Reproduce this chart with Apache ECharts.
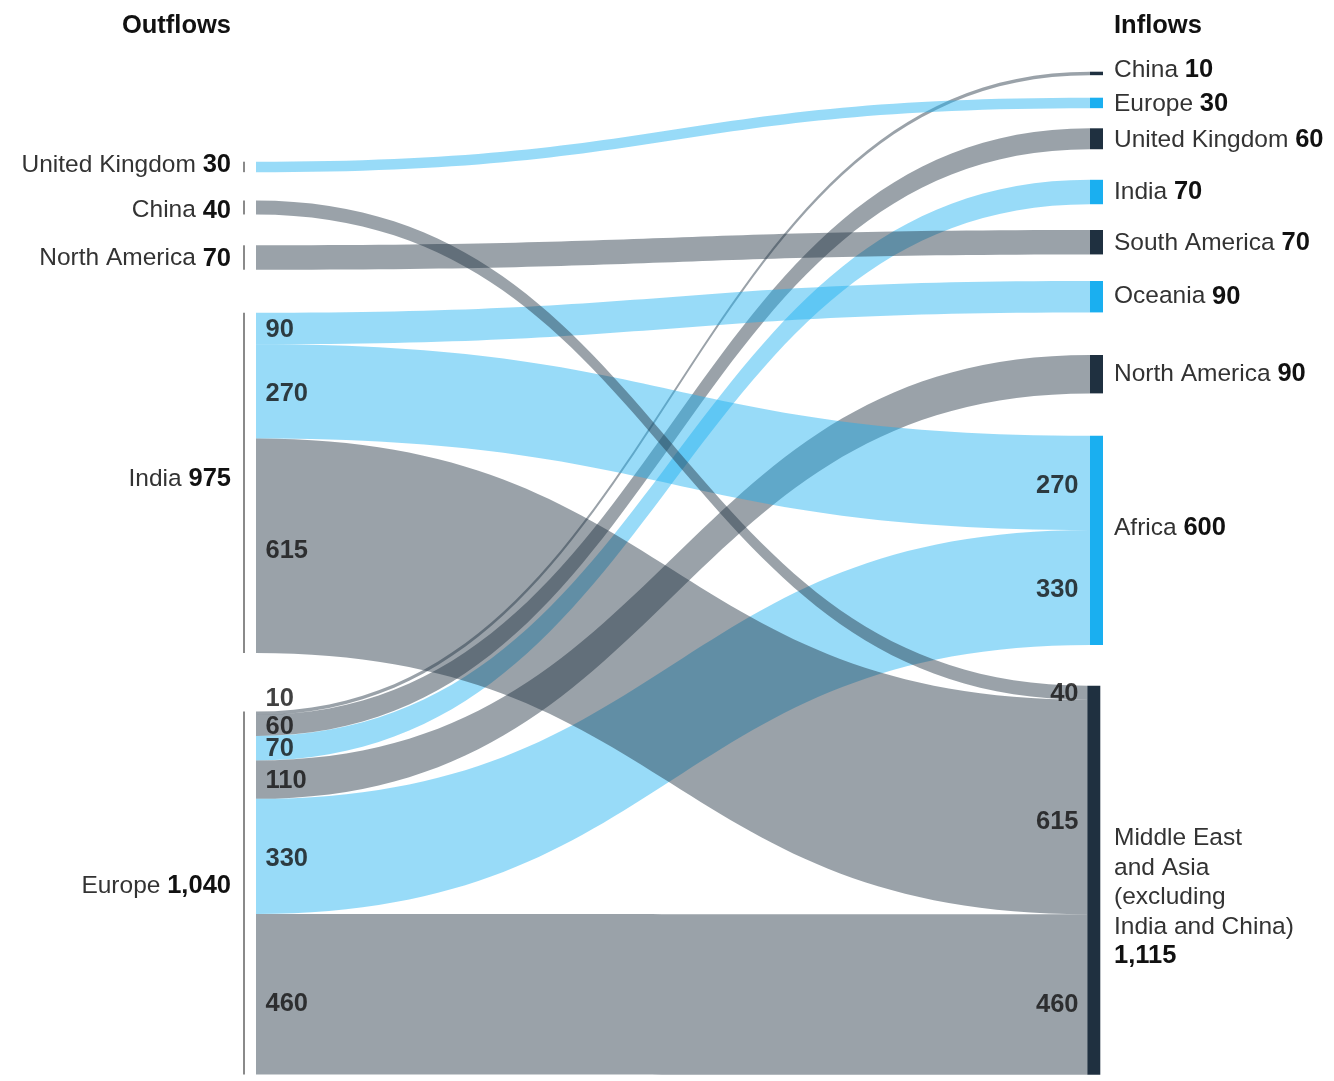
<!DOCTYPE html>
<html>
<head>
<meta charset="utf-8">
<script src="https://cdn.jsdelivr.net/npm/echarts@6/dist/echarts.min.js"></script>
<style>
html, body { margin: 0; padding: 0; background: #fff; }
#chart { width: 1334px; height: 1081px; }
</style>
</head>
<body>
<div id="chart"></div>
<script>
// ---- Data ----
// Outflow regions (left column) and their totals
const outNames = ['United Kingdom', 'China', 'North America', 'India', 'Europe'];
const outTotals = [30, 40, 70, 975, 1040];
// Inflow regions (right column) and their totals
const inNames = ['China', 'Europe', 'United Kingdom', 'India', 'South America', 'Oceania',
  'North America', 'Africa', 'Middle East\nand Asia\n(excluding\nIndia and China)'];
const inTotals = [10, 30, 60, 70, 70, 90, 90, 600, 1115];
// Flows: index into outNames, index into inNames, value
const flowFrom = [4, 0, 4, 4, 2, 3, 4, 3, 4, 1, 3, 4];
const flowTo = [0, 1, 2, 3, 4, 5, 6, 7, 7, 8, 8, 8];
const flowValues = [10, 30, 60, 70, 70, 90, 110, 270, 330, 40, 615, 460];

// ---- Layout & style ----
const FONT = '"Liberation Sans", Arial, sans-serif';
const BLUE = '#1aaff0';
const NAVY = '#1f3040';
const LINE = '#8a8a8a';
const inColors = [NAVY, BLUE, NAVY, BLUE, NAVY, BLUE, NAVY, BLUE, NAVY];
const BOX = { left: 243, top: 71.7, width: 860, height: 1003.3 };
const NODE_W = 13;
const NODE_GAP = 31.4;
// node top edges (page px)
const outTops = [161.7, 200.5, 245.3, 312.8, 711.6];
const inTops = [71.7, 97.7, 128.3, 179.8, 230, 281, 355, 435.7, 685.7];
const inShiftX = [0, 0, 0, 0, 0, 0, 0, 0, -2.7];
const outLabelDy = [-2, 3, 1, -4, -7];
const inLabelDy = [-3, 1, 1, 0, 1, 0, 0, -12, 17];
const edgeStartDy = [-14, 1, 1, 1, 0, 1, 1, 3, 3, 0, 5, 10];
const edgeEndDy = [0, 0, 0, 0, 0, 0, 0, 3, 2, 1, 15, 10];

const fmt = v => v.toLocaleString('en-US');
const sum = a => a.reduce((s, x) => s + x, 0);

// thin rule on the left edge of each outflow node
const leftRule = {
  type: 'linear', x: 0, y: 0, x2: 1, y2: 0,
  colorStops: [
    { offset: 0, color: LINE }, { offset: 0.12, color: LINE },
    { offset: 0.12, color: 'rgba(255,255,255,0)' }, { offset: 1, color: 'rgba(255,255,255,0)' }
  ]
};

const richText = {
  n: { fontFamily: FONT, fontSize: 24.5, color: '#333', lineHeight: 29.5 },
  v: { fontFamily: FONT, fontSize: 25.5, fontWeight: 'bold', color: '#111', lineHeight: 29.5 }
};

function labelText(name, value) {
  const lines = name.split('\n');
  if (lines.length > 1) {
    return lines.map(l => '{n|' + l + '}').join('\n') + '\n{v|' + fmt(value) + '}';
  }
  return '{n|' + name + ' }{v|' + fmt(value) + '}';
}

// node sizes as the sankey layout computes them
const outSize = outNames.map((_, i) => Math.max(outTotals[i], sum(flowValues.filter((_, k) => flowFrom[k] === i))));
const inSize = inNames.map((_, j) => Math.max(inTotals[j], sum(flowValues.filter((_, k) => flowTo[k] === j))));
const ky = Math.min(
  (BOX.height - (outNames.length - 1) * NODE_GAP) / sum(outSize),
  (BOX.height - (inNames.length - 1) * NODE_GAP) / sum(inSize)
);
const rightX = BOX.width - NODE_W;

const nodes = [];
outNames.forEach((name, i) => {
  nodes.push({
    name: 'out-' + i,
    value: outTotals[i],
    localX: 0,
    localY: (outTops[i] - BOX.top) / BOX.height,
    itemStyle: { color: leftRule },
    label: {
      position: 'left', distance: 12, offset: [0, outLabelDy[i]],
      align: 'right', formatter: labelText(name, outTotals[i]), rich: richText
    }
  });
});
inNames.forEach((name, j) => {
  nodes.push({
    name: 'in-' + j,
    value: inTotals[j],
    localX: (rightX + inShiftX[j]) / BOX.width,
    localY: (inTops[j] - BOX.top) / BOX.height,
    itemStyle: { color: inColors[j] },
    label: {
      position: 'right', distance: 11 - inShiftX[j], offset: [0, inLabelDy[j]],
      align: 'left', formatter: labelText(name, inTotals[j]), rich: richText
    }
  });
});

const links = flowValues.map((v, k) => ({
  source: 'out-' + flowFrom[k],
  target: 'in-' + flowTo[k],
  value: v
}));

// value labels at both ends of the flows, stacked in the same order as the sankey edges
const edgeLabels = [];
outNames.forEach((_, i) => {
  const ks = flowValues.map((_, k) => k).filter(k => flowFrom[k] === i).sort((a, b) => flowTo[a] - flowTo[b]);
  if (ks.length < 2) return;
  let acc = 0;
  ks.forEach(k => {
    const y = outTops[i] - BOX.top + (acc + flowValues[k] / 2) * ky + edgeStartDy[k];
    acc += flowValues[k];
    edgeLabels.push({
      value: [NODE_W, y],
      label: { position: 'right', distance: 9, formatter: String(flowValues[k]) }
    });
  });
});
inNames.forEach((_, j) => {
  const ks = flowValues.map((_, k) => k).filter(k => flowTo[k] === j).sort((a, b) => flowFrom[a] - flowFrom[b]);
  if (ks.length < 2) return;
  let acc = 0;
  ks.forEach(k => {
    const y = inTops[j] - BOX.top + (acc + flowValues[k] / 2) * ky + edgeEndDy[k];
    acc += flowValues[k];
    edgeLabels.push({
      value: [rightX + inShiftX[j], y],
      label: { position: 'left', distance: 11 + inShiftX[j], formatter: String(flowValues[k]) }
    });
  });
});

const chart = echarts.init(document.getElementById('chart'), null, { renderer: 'canvas' });
chart.setOption({
  animation: false,
  backgroundColor: '#fff',
  title: [
    {
      text: 'Outflows', right: 1334 - 231, top: 13, padding: 0,
      textStyle: { fontFamily: FONT, fontSize: 25.5, fontWeight: 'bold', color: '#111' }
    },
    {
      text: 'Inflows', left: 1114, top: 13, padding: 0,
      textStyle: { fontFamily: FONT, fontSize: 25.5, fontWeight: 'bold', color: '#111' }
    }
  ],
  grid: { left: BOX.left, top: BOX.top, width: BOX.width, height: BOX.height, show: false },
  xAxis: { type: 'value', min: 0, max: BOX.width, show: false },
  yAxis: { type: 'value', min: 0, max: BOX.height, inverse: true, show: false },
  series: [
    {
      type: 'sankey',
      left: BOX.left, top: BOX.top, width: BOX.width, height: BOX.height,
      nodeWidth: NODE_W,
      nodeGap: NODE_GAP,
      layoutIterations: 0,
      draggable: false,
      emphasis: { disabled: true },
      data: nodes,
      links: links,
      label: { show: true, fontFamily: FONT },
      lineStyle: { color: 'target', opacity: 0.45, curveness: 0.5 },
      itemStyle: { borderWidth: 0 },
      z: 1
    },
    {
      type: 'scatter',
      silent: true,
      symbolSize: 1,
      itemStyle: { color: 'rgba(0,0,0,0)' },
      label: {
        show: true, fontFamily: FONT, fontSize: 25.5, fontWeight: 'bold', color: '#111'
      },
      data: edgeLabels,
      z: 5
    }
  ]
});
</script>
</body>
</html>
